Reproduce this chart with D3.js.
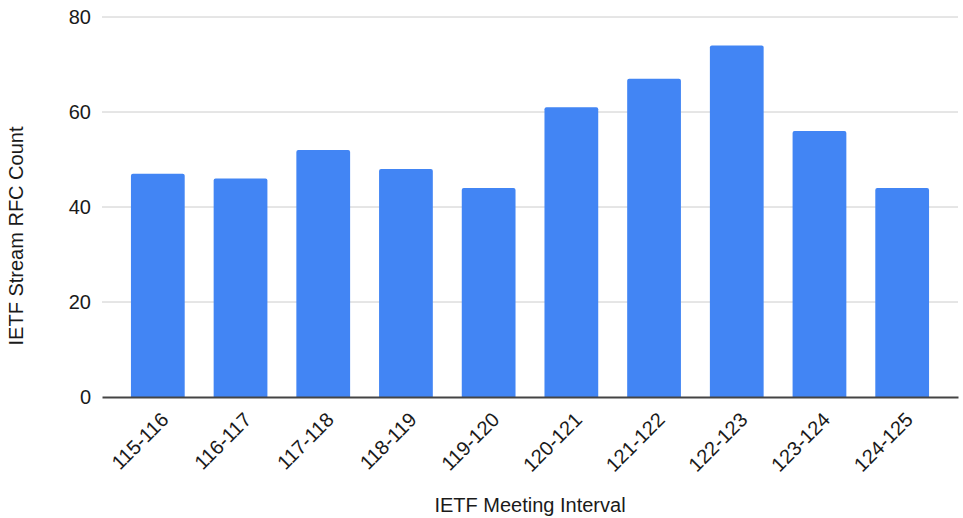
<!DOCTYPE html>
<html>
<head>
<meta charset="utf-8">
<script src="https://cdn.jsdelivr.net/npm/d3@7"></script>
<style>
  body { margin: 0; background: #fff; }
  text { font-family: "Liberation Sans", Arial, sans-serif; fill: #1a1a1a; }
</style>
</head>
<body>
<svg width="963" height="518"></svg>
<script>
// Chart data
var intervals = ["115-116","116-117","117-118","118-119","119-120","120-121","121-122","122-123","123-124","124-125"];
var rfcCounts = [47, 46, 52, 48, 44, 61, 67, 74, 56, 44];
var yTicks = [0, 20, 40, 60, 80];

var width = 963, height = 518;
var margin = {top: 17, right: 5, bottom: 121, left: 102};
var fontSize = "20px";

var svg = d3.select("svg");

var xScale = d3.scaleBand()
               .domain(intervals)
               .range([margin.left, width - margin.right])
               .padding(0.35);

var yScale = d3.scaleLinear()
               .domain([0, 80])
               .range([height - margin.bottom, margin.top]);

// grid lines
svg.append("g")
  .selectAll("line")
  .data(yTicks.filter(d => d > 0))
  .enter()
  .append("line")
    .attr("x1", margin.left)
    .attr("x2", width - margin.right)
    .attr("y1", d => yScale(d))
    .attr("y2", d => yScale(d))
    .attr("stroke", "#cccccc")
    .attr("stroke-width", 1);

// y tick labels
var yAxis = d3.axisLeft(yScale)
              .tickValues(yTicks)
              .tickSize(0)
              .tickPadding(11);

svg.append("g")
    .attr("transform", "translate(" + margin.left + ",0)")
    .call(yAxis)
    .call(g => g.select(".domain").remove())
    .selectAll("text")
      .style("font-size", fontSize)
      .attr("fill", "#1a1a1a")
      .attr("font-family", "Liberation Sans, Arial, sans-serif");

// bars (slightly rounded tops)
svg.append("g")
  .selectAll("path")
  .data(rfcCounts)
  .enter()
  .append("path")
    .attr("fill", "#4285f4")
    .attr("d", function(d, i) {
      var x0 = xScale(intervals[i]), w = xScale.bandwidth();
      var y0 = yScale(d), y1 = yScale(0), r = 2;
      return "M" + x0 + "," + y1 +
             "V" + (y0 + r) +
             "Q" + x0 + "," + y0 + " " + (x0 + r) + "," + y0 +
             "H" + (x0 + w - r) +
             "Q" + (x0 + w) + "," + y0 + " " + (x0 + w) + "," + (y0 + r) +
             "V" + y1 + "Z";
    });

// x axis
var xAxis = d3.axisBottom(xScale)
              .tickSize(0)
              .tickSizeOuter(0);

var xg = svg.append("g")
    .attr("transform", "translate(0," + yScale(0) + ")")
    .call(xAxis);

xg.select(".domain")
    .attr("stroke", "#444")
    .attr("stroke-width", 2);

xg.selectAll("text")
    .style("font-size", fontSize)
    .attr("fill", "#1a1a1a")
    .attr("font-family", "Liberation Sans, Arial, sans-serif")
    .style("text-anchor", "end")
    .attr("dy", "0")
    .attr("y", 0)
    .attr("transform", "translate(12,24) rotate(-45)");

// axis titles
svg.append("text")
    .attr("x", 530)
    .attr("y", 512)
    .style("text-anchor", "middle")
    .style("font-size", fontSize)
    .text("IETF Meeting Interval");

svg.append("text")
    .attr("transform", "rotate(-90)")
    .attr("x", -236)
    .attr("y", 23)
    .style("text-anchor", "middle")
    .style("font-size", fontSize)
    .text("IETF Stream RFC Count");
</script>
</body>
</html>
